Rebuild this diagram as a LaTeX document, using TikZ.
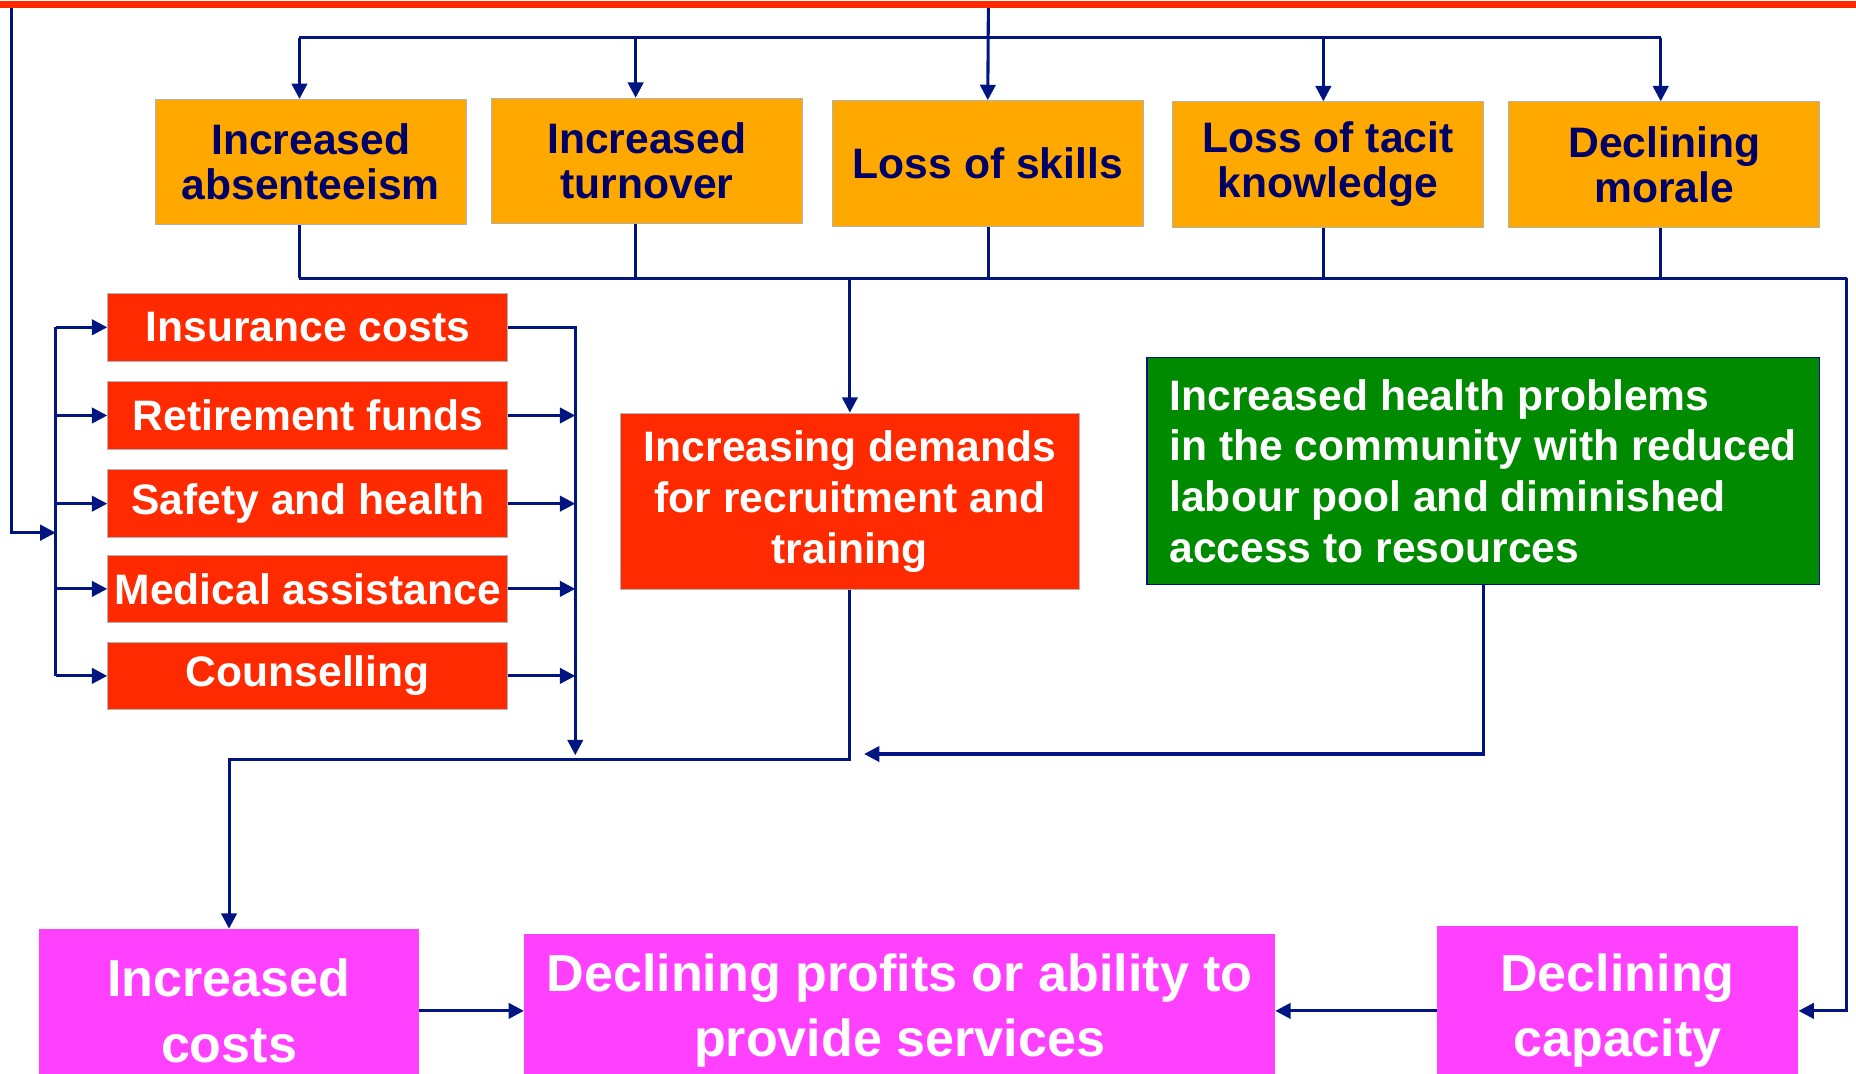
\documentclass[tikz,border=0pt]{standalone}
\usepackage{fontspec}
\setmainfont{Liberation Sans}
\usetikzlibrary{arrows.meta, positioning}

\definecolor{bannerred}{HTML}{FF2A00}
\definecolor{effectorange}{HTML}{FFA800}
\definecolor{costred}{HTML}{FF2A00}
\definecolor{healthgreen}{HTML}{008A00}
\definecolor{impactpink}{HTML}{FF40FF}
\definecolor{linknavy}{HTML}{00157F}
\definecolor{textnavy}{HTML}{000066}

\tikzset{
    effectbox/.style={fill=effectorange, draw=gray!60, text=textnavy,
        font=\bfseries\fontsize{18}{19}\selectfont, align=center,
        minimum width=131.5pt, minimum height=53pt, inner sep=1pt},
    costbox/.style={fill=costred, draw=gray!60, text=white,
        font=\bfseries\fontsize{18}{19}\selectfont, align=center,
        minimum width=169pt, minimum height=28.5pt, inner sep=1pt},
    healthbox/.style={fill=healthgreen, draw=linknavy, line width=0.6pt, text=white,
        font=\bfseries\fontsize{18}{21.5}\selectfont, align=left,
        minimum width=284pt, minimum height=96pt, inner sep=1pt},
    impactbox/.style={fill=impactpink, text=white,
        font=\bfseries\fontsize{22}{27.5}\selectfont, align=center, inner sep=1pt},
    link/.style={draw=linknavy, line width=1.3pt},
    feed/.style={link, -{Triangle[length=6.5pt,width=6.5pt]}},
}

\begin{document}
\begin{tikzpicture}[x=0.5pt, y=-0.5pt]
\useasboundingbox (0,0) rectangle (1568,907);

% effects on the workforce
\node[effectbox] (abs)    at (262.5,137) {Increased\\absenteeism};
\node[effectbox] (turn)   at (546.5,136) {Increased\\turnover};
\node[effectbox] (skill)  at (834.5,138) {Loss of skills};
\node[effectbox] (tacit)  at (1122,139)  {Loss of tacit\\knowledge};
\node[effectbox] (morale) at (1406,139)  {Declining\\morale};

% direct costs
\foreach \n/\t/\y in {ins/Insurance costs/276.5, ret/Retirement funds/351,
    saf/Safety and health/425.5, med/Medical assistance/497.5, cou/Counselling/571}
    \node[costbox] (\n) at (260,\y) {\t};

\node[costbox, minimum width=194pt, minimum height=74.5pt,
    font=\bfseries\fontsize{18}{21.5}\selectfont] (dem) at (718,423.5)
    {Increasing demands\\for recruitment and\\training};
\node[healthbox] (hp) at (1253,398)
    {Increased health problems\\in the community with reduced\\labour pool and diminished\\access to resources};

% outcomes
\node[impactbox, minimum width=160.5pt, minimum height=69pt] (inccost) at (193.5,854) {Increased\\costs};
\node[impactbox, minimum width=317pt, minimum height=65pt] (profit) at (760,854) {Declining profits or ability to\\provide services};
\node[impactbox, minimum width=152.5pt, minimum height=72pt] (capac) at (1366.5,854) {Declining\\capacity};

\coordinate (tb1) at (253,32);
\coordinate (tb2) at (537,32);
\coordinate (tb3) at (835,32);
\coordinate (tb4) at (1118,32);
\coordinate (tb5) at (1403,32);
\coordinate (bb)  at (253,235);
\coordinate (bbr) at (1560,235);
\coordinate (lbus) at (47,450);
\coordinate (rbus) at (486,638);
\coordinate (jn) at (718,642);
\coordinate (merge) at (730,637);

\draw[link] (tb1) -- (tb5);
\draw[feed] (835,6) -- (skill.north);
\foreach \c/\n in {tb1/abs, tb2/turn, tb4/tacit, tb5/morale}
    \draw[feed] (\c) -- (\c |- \n.north);

\foreach \c/\n in {tb1/abs, tb2/turn, tb3/skill, tb4/tacit, tb5/morale}
    \draw[link] (\c |- \n.south) -- (\c |- bb);
\draw[link] (bb) -- (bbr);
\draw[feed] (bbr) |- (capac.east);
\draw[feed] (dem.north |- bb) -- (dem.north);

\draw[feed] (9.5,6) |- (lbus);
\draw[link] (lbus |- ins.west) -- (lbus |- cou.west);
\foreach \n in {ins, ret, saf, med, cou}
    \draw[feed] (lbus |- \n.west) -- (\n.west);

\draw[feed] (ins.east) -| (rbus);
\foreach \n in {ret, saf, med, cou}
    \draw[feed] (\n.east) -- (rbus |- \n.east);

\draw[feed] (dem.south) -- (jn) -| (inccost.north);
\draw[feed] (hp.south) |- (merge);
\draw[feed] (inccost.east) -- (profit.west);
\draw[feed] (capac.west) -- (profit.east);

\draw[bannerred, line width=2.8pt] (0,4) -- (1568,4);
\end{tikzpicture}
\end{document}
